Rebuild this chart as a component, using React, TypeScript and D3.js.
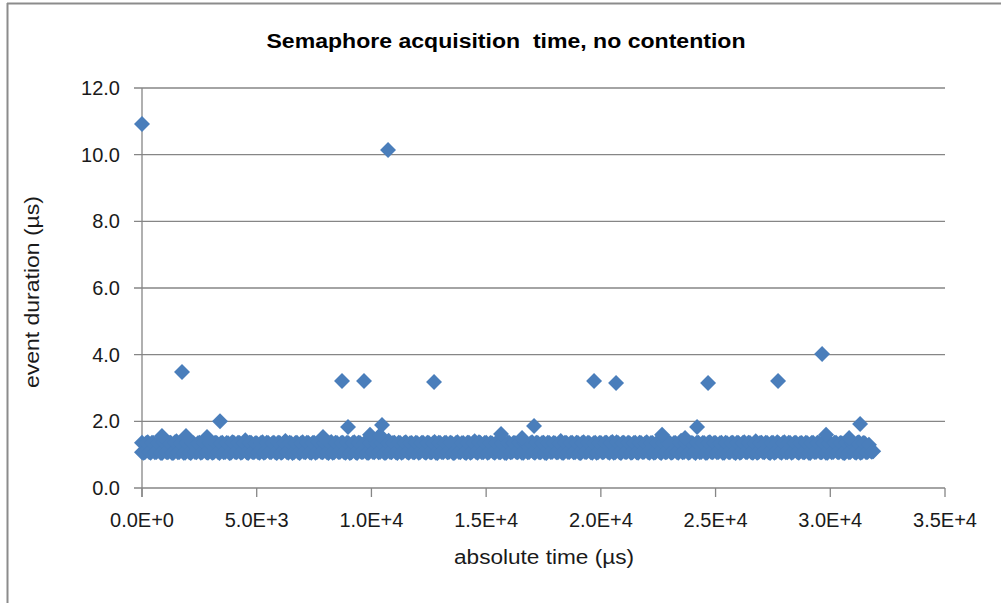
import React from "react";
import * as d3 from "d3";

// Dense band of ordinary acquisitions: [absolute time (µs), duration (µs)]
const bandEvents: [number, number][] = [
  [0, 1.07],
  [0, 1.36], [124, 1.07], [251, 1.37], [376, 1.06], [499, 1.35], [626, 1.08], [750, 1.38], [873, 1.05],
  [1002, 1.34], [1127, 1.07], [1249, 1.36], [1375, 1.06], [1501, 1.40], [1624, 1.08], [1752, 1.35], [1876, 1.06],
  [1998, 1.37], [2125, 1.05], [2250, 1.34], [2373, 1.07], [2502, 1.36], [2626, 1.08], [2749, 1.35], [2874, 1.06],
  [3001, 1.38], [3124, 1.07], [3252, 1.35], [3376, 1.05], [3498, 1.36], [3627, 1.08], [3751, 1.34], [3873, 1.06],
  [4000, 1.36], [4126, 1.07], [4249, 1.35], [4374, 1.08], [4502, 1.43], [4625, 1.05], [4750, 1.36], [4877, 1.07],
  [4999, 1.34], [5124, 1.06], [5251, 1.37], [5375, 1.08], [5500, 1.35], [5626, 1.07], [5749, 1.36], [5874, 1.05],
  [6001, 1.35], [6125, 1.08], [6250, 1.41], [6376, 1.06], [6499, 1.34], [6627, 1.07], [6752, 1.36], [6873, 1.05],
  [7000, 1.37], [7124, 1.07], [7251, 1.35], [7377, 1.06], [7500, 1.36], [7625, 1.08], [7748, 1.34], [7876, 1.07],
  [8002, 1.36], [8125, 1.05], [8249, 1.38], [8374, 1.07], [8501, 1.35], [8626, 1.08], [8750, 1.36], [8873, 1.06],
  [8999, 1.34], [9126, 1.07], [9252, 1.37], [9375, 1.05], [9498, 1.35], [9624, 1.08], [9751, 1.36], [9877, 1.06],
  [10001, 1.35], [10124, 1.07], [10250, 1.36], [10376, 1.08], [10502, 1.34], [10625, 1.06], [10749, 1.42], [10874, 1.07],
  [11000, 1.36], [11127, 1.05], [11251, 1.35], [11373, 1.08], [11499, 1.37], [11626, 1.06], [11752, 1.35], [11875, 1.07],
  [12001, 1.34], [12124, 1.08], [12249, 1.36], [12377, 1.06], [12500, 1.35], [12625, 1.07], [12751, 1.38], [12874, 1.05],
  [12998, 1.35], [13126, 1.07], [13252, 1.36], [13375, 1.08], [13501, 1.34], [13624, 1.06], [13750, 1.37], [13876, 1.07],
  [14000, 1.35], [14125, 1.05], [14251, 1.36], [14374, 1.08], [14499, 1.40], [14627, 1.06], [14750, 1.35], [14873, 1.07],
  [15002, 1.36], [15124, 1.08], [15250, 1.34], [15376, 1.06], [15501, 1.37], [15625, 1.07], [15749, 1.35], [15877, 1.05],
  [16000, 1.36], [16126, 1.08], [16252, 1.35], [16375, 1.07], [16498, 1.36], [16624, 1.06], [16751, 1.34], [16874, 1.08],
  [17001, 1.37], [17125, 1.06], [17249, 1.35], [17376, 1.07], [17500, 1.36], [17626, 1.05], [17750, 1.35], [17873, 1.08],
  [17999, 1.34], [18127, 1.07], [18251, 1.41], [18374, 1.06], [18502, 1.35], [18625, 1.08], [18749, 1.36], [18876, 1.07],
  [19000, 1.35], [19124, 1.05], [19250, 1.37], [19377, 1.08], [19501, 1.34], [19626, 1.06], [19752, 1.36], [19875, 1.07],
  [20002, 1.35], [20125, 1.08], [20249, 1.36], [20374, 1.06], [20500, 1.38], [20624, 1.07], [20751, 1.35], [20876, 1.05],
  [20999, 1.36], [21126, 1.08], [21252, 1.34], [21375, 1.07], [21498, 1.36], [21625, 1.06], [21750, 1.35], [21874, 1.08],
  [22001, 1.37], [22124, 1.06], [22250, 1.35], [22376, 1.07], [22501, 1.36], [22627, 1.05], [22749, 1.34], [22873, 1.08],
  [23000, 1.36], [23125, 1.07], [23251, 1.35], [23374, 1.06], [23499, 1.42], [23626, 1.08], [23752, 1.35], [23875, 1.07],
  [24002, 1.34], [24124, 1.05], [24249, 1.36], [24377, 1.08], [24500, 1.35], [24625, 1.06], [24751, 1.37], [24876, 1.07],
  [24998, 1.35], [25126, 1.08], [25252, 1.36], [25375, 1.06], [25501, 1.34], [25624, 1.07], [25750, 1.36], [25873, 1.05],
  [26000, 1.35], [26125, 1.08], [26251, 1.37], [26374, 1.07], [26499, 1.35], [26627, 1.06], [26750, 1.40], [26876, 1.08],
  [27001, 1.36], [27124, 1.07], [27250, 1.35], [27376, 1.05], [27502, 1.36], [27625, 1.08], [27749, 1.34], [27874, 1.06],
  [27999, 1.37], [28127, 1.07], [28251, 1.35], [28373, 1.08], [28500, 1.36], [28626, 1.06], [28752, 1.35], [28875, 1.07],
  [29002, 1.34], [29124, 1.05], [29250, 1.36], [29377, 1.08], [29501, 1.35], [29625, 1.07], [29749, 1.37], [29876, 1.06],
  [30000, 1.35], [30126, 1.08], [30252, 1.36], [30375, 1.07], [30498, 1.34], [30624, 1.05], [30751, 1.36], [30874, 1.08],
  [31001, 1.35], [31125, 1.06], [31250, 1.37], [31376, 1.07], [31499, 1.34], [31624, 1.08], [31748, 1.12], [31872, 1.10],
];

// Interleaved acquisitions between the ones above
const bandEvents2: [number, number][] = [
  [62, 1.06], [187, 1.35], [313, 1.08], [437, 1.36], [561, 1.07], [688, 1.34], [811, 1.06], [936, 1.37],
  [1064, 1.08], [1188, 1.35], [1312, 1.05], [1437, 1.37], [1563, 1.07], [1686, 1.34], [1814, 1.06], [1937, 1.36],
  [2061, 1.07], [2187, 1.35], [2311, 1.08], [2436, 1.34], [2564, 1.06], [2688, 1.36], [2811, 1.07], [2936, 1.35],
  [3062, 1.06], [3188, 1.36], [3314, 1.08], [3437, 1.34], [3560, 1.07], [3689, 1.35], [3813, 1.05], [3936, 1.37],
  [4063, 1.08], [4187, 1.36], [4311, 1.06], [4438, 1.35], [4564, 1.07], [4688, 1.36], [4813, 1.08], [4938, 1.34],
  [5061, 1.07], [5187, 1.35], [5313, 1.06], [5438, 1.36], [5562, 1.08], [5687, 1.34], [5811, 1.07], [5937, 1.36],
  [6063, 1.06], [6187, 1.35], [6312, 1.08], [6438, 1.36], [6561, 1.05], [6689, 1.35], [6814, 1.07], [6936, 1.34],
  [7062, 1.08], [7187, 1.36], [7313, 1.07], [7439, 1.35], [7563, 1.06], [7686, 1.37], [7811, 1.08], [7938, 1.35],
  [8064, 1.07], [8187, 1.34], [8311, 1.06], [8436, 1.36], [8563, 1.08], [8688, 1.35], [8812, 1.07], [8936, 1.36],
  [9061, 1.05], [9188, 1.35], [9314, 1.07], [9437, 1.36], [9561, 1.08], [9686, 1.34], [9813, 1.06], [9939, 1.35],
  [10063, 1.08], [10186, 1.36], [10312, 1.07], [10438, 1.35], [10564, 1.06], [10687, 1.37], [10811, 1.08], [10937, 1.35],
  [11062, 1.07], [11189, 1.36], [11313, 1.06], [11436, 1.35], [11561, 1.08], [11688, 1.34], [11814, 1.07], [11937, 1.36],
  [12063, 1.06], [12186, 1.35], [12311, 1.08], [12439, 1.36], [12562, 1.07], [12687, 1.34], [12813, 1.06], [12936, 1.36],
  [13060, 1.08], [13188, 1.35], [13314, 1.07], [13437, 1.36], [13563, 1.05], [13686, 1.35], [13812, 1.08], [13938, 1.34],
  [14062, 1.07], [14187, 1.36], [14313, 1.06], [14436, 1.35], [14561, 1.08], [14689, 1.37], [14812, 1.07], [14935, 1.35],
  [15064, 1.06], [15186, 1.35], [15312, 1.08], [15438, 1.36], [15563, 1.07], [15687, 1.34], [15811, 1.06], [15939, 1.36],
  [16062, 1.07], [16188, 1.35], [16314, 1.08], [16437, 1.36], [16560, 1.06], [16686, 1.35], [16813, 1.07], [16936, 1.34],
  [17063, 1.08], [17187, 1.36], [17311, 1.07], [17438, 1.35], [17562, 1.06], [17688, 1.36], [17812, 1.08], [17935, 1.35],
  [18061, 1.07], [18189, 1.34], [18313, 1.06], [18436, 1.36], [18564, 1.08], [18687, 1.35], [18811, 1.07], [18938, 1.36],
  [19062, 1.06], [19186, 1.35], [19312, 1.08], [19439, 1.36], [19563, 1.07], [19688, 1.34], [19814, 1.06], [19937, 1.35],
  [20064, 1.07], [20187, 1.36], [20311, 1.08], [20436, 1.35], [20562, 1.06], [20686, 1.37], [20813, 1.07], [20938, 1.35],
  [21061, 1.08], [21188, 1.36], [21314, 1.06], [21437, 1.35], [21560, 1.07], [21687, 1.36], [21812, 1.08], [21936, 1.34],
  [22063, 1.07], [22186, 1.35], [22312, 1.06], [22438, 1.36], [22563, 1.08], [22689, 1.35], [22811, 1.07], [22935, 1.36],
  [23062, 1.06], [23187, 1.35], [23313, 1.08], [23436, 1.36], [23561, 1.07], [23688, 1.34], [23814, 1.06], [23937, 1.35],
  [24064, 1.08], [24186, 1.36], [24311, 1.07], [24439, 1.35], [24562, 1.06], [24687, 1.36], [24813, 1.08], [24938, 1.35],
  [25060, 1.07], [25188, 1.34], [25314, 1.06], [25437, 1.36], [25563, 1.08], [25686, 1.35], [25812, 1.07], [25935, 1.36],
  [26062, 1.06], [26187, 1.35], [26313, 1.08], [26436, 1.36], [26561, 1.07], [26689, 1.34], [26812, 1.06], [26938, 1.35],
  [27063, 1.08], [27186, 1.36], [27312, 1.07], [27438, 1.35], [27564, 1.06], [27687, 1.37], [27811, 1.08], [27936, 1.35],
  [28061, 1.07], [28189, 1.36], [28313, 1.06], [28435, 1.35], [28562, 1.08], [28688, 1.34], [28814, 1.07], [28937, 1.36],
  [29064, 1.06], [29186, 1.35], [29312, 1.08], [29439, 1.36], [29563, 1.07], [29687, 1.35], [29811, 1.06], [29938, 1.34],
  [30062, 1.07], [30188, 1.36], [30314, 1.08], [30437, 1.35], [30560, 1.06], [30686, 1.36], [30813, 1.07], [30936, 1.35],
  [31063, 1.08], [31187, 1.36], [31312, 1.06], [31438, 1.35], [31561, 1.07], [31686, 1.30], [31810, 1.09],
];

// Small spikes just above the band
const spikeEvents: [number, number][] = [
  [870, 1.56], [1918, 1.56], [2833, 1.53], [7890, 1.53], [9939, 1.6], [10370, 1.58],
  [15650, 1.62], [16565, 1.5], [22668, 1.6], [23670, 1.5], [29817, 1.6], [30820, 1.5],
];

// Clear outliers
const outlierEvents: [number, number][] = [
  [0, 10.92], [10724, 10.14], [1744, 3.48], [8718, 3.21], [9677, 3.21], [12729, 3.18],
  [19704, 3.21], [20663, 3.15], [24673, 3.15], [27724, 3.21], [29643, 4.02], [31300, 1.92],
  [3400, 2.0], [8980, 1.83], [10462, 1.89], [17088, 1.86], [24194, 1.83],
];

const xTicks = [0, 5000, 10000, 15000, 20000, 25000, 30000, 35000];
const xTickLabels = ["0.0E+0", "5.0E+3", "1.0E+4", "1.5E+4", "2.0E+4", "2.5E+4", "3.0E+4", "3.5E+4"];
const yTicks = [0, 2, 4, 6, 8, 10, 12];
const yTickLabels = ["0.0", "2.0", "4.0", "6.0", "8.0", "10.0", "12.0"];

const title = "Semaphore acquisition  time, no contention";
const xTitle = "absolute time (µs)";
const yTitle = "event duration (µs)";

export default function App() {
  const W = 1001, H = 603;
  const left = 142, right = 945, top = 88, bottom = 488;
  const x = d3.scaleLinear().domain([0, 35000]).range([left, right]);
  const y = d3.scaleLinear().domain([0, 12]).range([bottom, top]);
  const diamond = d3.symbol().type(d3.symbolDiamond2).size(162)();
  const all = [...bandEvents, ...bandEvents2, ...spikeEvents, ...outlierEvents];
  const grid = "#868686";
  const font = "'Liberation Sans', Arial, sans-serif";
  return (
    <svg width={W} height={H} style={{ position: "absolute", left: 0, top: 0, background: "#fff" }}>
      <rect x={0} y={0} width={W} height={H} fill="#fff" />
      <line x1={7} y1={3.5} x2={W} y2={3.5} stroke="#8c8c8c" strokeWidth={2} />
      <line x1={7.5} y1={3} x2={7.5} y2={H} stroke="#8c8c8c" strokeWidth={2} />
      <text x={506} y={48} textAnchor="middle" fontFamily={font} fontWeight="bold" fontSize={20}
        textLength={479} lengthAdjust="spacingAndGlyphs" fill="#000" style={{ whiteSpace: "pre" }}>{title}</text>
      {yTicks.map((t) => (
        <line key={"g" + t} x1={left - 8} x2={right} y1={y(t)} y2={y(t)} stroke={grid} strokeWidth={1.3} />
      ))}
      <line x1={left} x2={left} y1={top} y2={bottom + 9} stroke={grid} strokeWidth={1.3} />
      {xTicks.map((t) => (
        <line key={"xt" + t} x1={x(t)} x2={x(t)} y1={bottom} y2={bottom + 9} stroke={grid} strokeWidth={1.3} />
      ))}
      {yTicks.map((t, i) => (
        <text key={"yl" + t} x={120} y={y(t) + 7} textAnchor="end" fontFamily={font} fontSize={20} fill="#1a1a1a">
          {yTickLabels[i]}
        </text>
      ))}
      {xTicks.map((t, i) => (
        <text key={"xl" + t} x={x(t)} y={527} textAnchor="middle" fontFamily={font} fontSize={20} fill="#1a1a1a">
          {xTickLabels[i]}
        </text>
      ))}
      <text x={544} y={564} textAnchor="middle" fontFamily={font} fontSize={20} fill="#1a1a1a"
        textLength={180} lengthAdjust="spacingAndGlyphs">{xTitle}</text>
      <text transform="translate(39,292) rotate(-90)" textAnchor="middle" fontFamily={font} fontSize={20}
        fill="#1a1a1a" textLength={192} lengthAdjust="spacingAndGlyphs">{yTitle}</text>
      <g fill="#4A7EBB">
        {all.map(([t, d], i) => (
          <path key={i} d={diamond} transform={`translate(${x(t)},${y(d)})`} />
        ))}
      </g>
    </svg>
  );
}
